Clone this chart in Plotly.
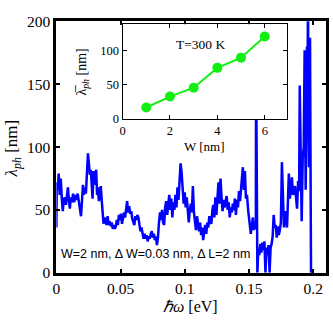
import plotly.graph_objects as go

# main curve: phonon mean free path vs energy
energy_ev = [
    0.0000, 0.0003, 0.0012, 0.0018, 0.0026, 0.0034, 0.0042, 0.0050, 0.0058, 0.0066,
    0.0074, 0.0082, 0.0090, 0.0098, 0.0105, 0.0113, 0.0121, 0.0130, 0.0139, 0.0148,
    0.0157, 0.0166, 0.0175, 0.0184, 0.0192, 0.0200, 0.0207, 0.0214, 0.0222, 0.0230,
    0.0238, 0.0246, 0.0254, 0.0261, 0.0268, 0.0275, 0.0282, 0.0289, 0.0296, 0.0303,
    0.0310, 0.0317, 0.0324, 0.0331, 0.0339, 0.0346, 0.0353, 0.0360, 0.0367, 0.0375,
    0.0383, 0.0391, 0.0399, 0.0407, 0.0415, 0.0423, 0.0431, 0.0439, 0.0447, 0.0455,
    0.0463, 0.0471, 0.0479, 0.0487, 0.0495, 0.0503, 0.0511, 0.0519, 0.0527, 0.0535,
    0.0543, 0.0551, 0.0559, 0.0567, 0.0575, 0.0583, 0.0591, 0.0599, 0.0607, 0.0615,
    0.0623, 0.0631, 0.0639, 0.0647, 0.0655, 0.0663, 0.0671, 0.0679, 0.0687, 0.0695,
    0.0703, 0.0711, 0.0719, 0.0727, 0.0735, 0.0743, 0.0751, 0.0759, 0.0767, 0.0775,
    0.0783, 0.0791, 0.0799, 0.0807, 0.0815, 0.0823, 0.0831, 0.0839, 0.0847, 0.0855,
    0.0863, 0.0871, 0.0879, 0.0887, 0.0895, 0.0903, 0.0911, 0.0919, 0.0927, 0.0935,
    0.0943, 0.0951, 0.0959, 0.0967, 0.0975, 0.0983, 0.0991, 0.0999, 0.1007, 0.1015,
    0.1023, 0.1031, 0.1039, 0.1047, 0.1055, 0.1063, 0.1071, 0.1079, 0.1087, 0.1095,
    0.1103, 0.1111, 0.1119, 0.1127, 0.1135, 0.1143, 0.1151, 0.1159, 0.1167, 0.1175,
    0.1183, 0.1191, 0.1199, 0.1207, 0.1215, 0.1222, 0.1230, 0.1238, 0.1246, 0.1254,
    0.1262, 0.1270, 0.1278, 0.1286, 0.1294, 0.1302, 0.1310, 0.1318, 0.1326, 0.1334,
    0.1342, 0.1350, 0.1358, 0.1366, 0.1374, 0.1382, 0.1390, 0.1398, 0.1406, 0.1414,
    0.1422, 0.1430, 0.1438, 0.1446, 0.1452, 0.1460, 0.1468, 0.1476, 0.1484, 0.1494,
    0.1504, 0.1514, 0.1522, 0.1530, 0.1538, 0.1546, 0.1553, 0.1555, 0.1565, 0.1572,
    0.1580, 0.1588, 0.1596, 0.1604, 0.1612, 0.1620, 0.1628, 0.1636, 0.1644, 0.1652,
    0.1660, 0.1668, 0.1676, 0.1684, 0.1692, 0.1700, 0.1708, 0.1716, 0.1724, 0.1732,
    0.1740, 0.1748, 0.1756, 0.1764, 0.1772, 0.1780, 0.1788, 0.1796, 0.1804, 0.1810,
    0.1818, 0.1826, 0.1834, 0.1842, 0.1850, 0.1858, 0.1866, 0.1874, 0.1882, 0.1890,
    0.1895, 0.1902, 0.1910, 0.1918, 0.1926, 0.1933, 0.1941, 0.1947, 0.1951, 0.1956,
    0.1959, 0.1964, 0.1967, 0.1972, 0.1975, 0.1980, 0.1983,
]
mfp_nm = [
    36, 72, 66, 79, 62, 75, 60, 49, 58, 60,
    54, 62, 68, 57, 51, 60, 56, 63, 56, 62,
    58, 63, 55, 52, 45, 58, 70, 62, 68, 63,
    76, 95, 86, 78, 82, 66, 59, 81, 70, 76,
    82, 62, 68, 57, 66, 69, 58, 49, 39, 44,
    40, 38, 45, 38, 41, 37, 40, 35, 38, 35,
    37, 42, 38, 46, 42, 47, 39, 44, 48, 44,
    52, 57, 48, 53, 47, 49, 43, 40, 38, 45,
    42, 46, 44, 38, 33, 36, 30, 27, 31, 27,
    30, 25, 29, 27, 31, 33, 28, 31, 26, 29,
    22, 28, 40, 48, 42, 50, 40, 38, 52, 57,
    46, 55, 62, 50, 59, 44, 56, 50, 62, 52,
    68, 58, 72, 87, 80, 70, 55, 64, 52, 60,
    48, 40, 50, 55, 48, 69, 48, 38, 34, 45,
    38, 33, 40, 30, 36, 26, 33, 38, 31, 40,
    36, 45, 40, 39, 50, 54, 44, 60, 46, 66,
    72, 55, 75, 60, 49, 58, 52, 57, 61, 50,
    56, 44, 52, 48, 55, 50, 59, 46, 58, 52,
    65, 57, 70, 79, 84, 66, 81, 59, 62, 49,
    42, 31, 38, 44, 34, 40, 35, 170, 0, 19,
    14, 23, 16, 24, 18, 25, 0, 20, 14, 22,
    0, 20, 23, 29, 46, 36, 38, 28, 37, 30,
    34, 40, 88, 50, 36, 49, 40, 36, 60, 79,
    59, 70, 76, 62, 64, 69, 58, 51, 73, 65,
    149, 69, 41, 91, 100, 177, 66, 120, 180, 150,
    220, 120, 84, 160, 187, 60, -5,
]

# inset: average mean free path vs ribbon width
width_nm = [1, 2, 3, 4, 5, 6]
avg_mfp_nm = [17, 33, 46, 75, 90, 121]

main_ticks_x = [0, 0.05, 0.1, 0.15, 0.2]
main_ticks_x_text = ["0", "0.05", "0.1", "0.15", "0.2"]
main_ticks_y = [0, 50, 100, 150, 200]
inset_ticks_x = [0, 2, 4, 6]
inset_ticks_y = [0, 50, 100]

SERIF = "Liberation Serif"
SANS = "Liberation Sans"

fig = go.Figure()
fig.add_trace(go.Scatter(
    x=energy_ev, y=mfp_nm, mode="lines",
    line=dict(color="#0000ff", width=2.5),
    xaxis="x", yaxis="y", showlegend=False, cliponaxis=True,
))
fig.add_trace(go.Scatter(
    x=width_nm, y=avg_mfp_nm, mode="lines+markers",
    line=dict(color="#11ee11", width=2),
    marker=dict(color="#11ee11", size=10),
    xaxis="x2", yaxis="y2", showlegend=False,
))

W = 333.0
def px_x(p):
    return p / W
def px_y(p):
    return 1 - p / W

main_ax = dict(
    showline=True, linewidth=3, linecolor="black", mirror="ticks",
    ticks="inside", ticklen=4, tickwidth=2, tickcolor="black",
    showgrid=False, zeroline=False,
    tickfont=dict(family=SERIF, size=15.5, color="black"),
)
inset_ax = dict(
    showline=True, linewidth=1, linecolor="black", mirror="ticks",
    ticks="inside", ticklen=4, tickwidth=1, tickcolor="black",
    showgrid=False, zeroline=False,
    tickfont=dict(family=SERIF, size=12.5, color="black"),
)

def note(text, x, y, size=13, angle=0, family=SERIF):
    return dict(text=text, x=px_x(x), y=px_y(y), xref="paper", yref="paper",
                xanchor="center", yanchor="middle", showarrow=False,
                textangle=angle, font=dict(family=family, size=size, color="black"))

fig.update_layout(
    width=333, height=333,
    margin=dict(l=0, r=0, t=0, b=0),
    paper_bgcolor="white", plot_bgcolor="white",
    font=dict(family=SERIF, size=13, color="black"),
    xaxis=dict(domain=[px_x(53), px_x(326)], range=[0, 0.21],
               tickvals=main_ticks_x, ticktext=main_ticks_x_text,
               anchor="y", **main_ax),
    yaxis=dict(domain=[px_y(278), px_y(13)], range=[0, 200],
               tickvals=main_ticks_y, anchor="x", **main_ax),
    xaxis2=dict(domain=[px_x(120), px_x(286)], range=[0, 6.92],
                tickvals=inset_ticks_x, anchor="y2", **inset_ax),
    yaxis2=dict(domain=[px_y(116), px_y(16)], range=[0, 139],
                tickvals=inset_ticks_y, anchor="x2", **inset_ax),
    annotations=[
        note("<i>ℏω</i> [eV]", 189, 313, 16),
        note("<i>λ</i><sub><i>ph</i></sub> [nm]", 10, 147, 17, -90),
        note("W [nm]", 203, 145, 13),
        note("λ̅<sub><i>ph</i></sub> [nm]", 80, 67, 14, -90),
        note("T=300 K", 199, 37, 13.5),
        note("W=2 nm, Δ W=0.03 nm, Δ L=2 nm", 153.5, 258, 12.5, family=SANS),
    ],
)

fig.write_html("out.html")
